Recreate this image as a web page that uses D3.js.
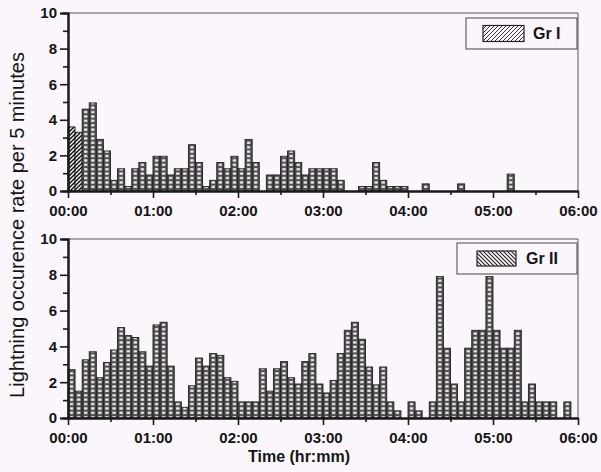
<!DOCTYPE html>
<html>
<head>
<meta charset="utf-8">
<script src="https://cdnjs.cloudflare.com/ajax/libs/d3/7.8.5/d3.min.js"></script>
<style>
  body { margin: 0; background: #fbf6fb; }
  svg { display: block; }
  text { font-family: "Liberation Sans", Arial, sans-serif; fill: #141414; }
</style>
</head>
<body>
<script>
// data: lightning rate per 5 minute bin, 72 bins from 00:00 to 06:00
var binMinutes = 5;
var timeLabels = ["00:00", "01:00", "02:00", "03:00", "04:00", "05:00", "06:00"];
var yTickValues = [0, 2, 4, 6, 8, 10];
var groupNames = ["Gr I", "Gr II"];

var grI = [3.6, 3.3, 4.6, 4.95, 2.9, 2.25, 0.6, 1.25, 0.25, 1.25, 1.6, 0.9,
           1.95, 1.95, 0.9, 1.25, 1.25, 2.6, 1.6, 0.25, 0.6, 1.6, 1.25, 1.95,
           1.25, 2.9, 1.6, 0, 0.9, 0.9, 1.95, 2.25, 1.6, 0.9, 1.25, 1.25,
           1.25, 1.25, 0.6, 0, 0, 0.25, 0.25, 1.6, 0.6, 0.25, 0.25, 0.25,
           0, 0, 0.4, 0, 0, 0, 0, 0.4, 0, 0, 0, 0,
           0, 0, 0.95, 0, 0, 0, 0, 0, 0, 0, 0, 0];

var grII = [2.7, 1.5, 3.25, 3.7, 2.25, 3.1, 3.8, 5.05, 4.6, 4.5, 3.7, 2.9,
            5.2, 5.35, 2.9, 0.9, 0.6, 1.8, 3.35, 2.9, 3.6, 3.5, 2.25, 2.05,
            0.9, 0.9, 0.9, 2.75, 1.5, 2.75, 3.15, 2.25, 1.9, 3.15, 3.6, 1.9,
            1.4, 2.1, 3.6, 4.9, 5.35, 4.4, 2.85, 1.85, 2.85, 0.9, 0.4, 0,
            0.9, 0.4, 0, 0.9, 7.9, 3.9, 1.9, 0.9, 3.9, 4.9, 4.9, 7.9,
            4.9, 3.9, 3.9, 4.9, 0.9, 1.9, 0.9, 0.9, 0.9, 0, 0.9, 0];

(function(){

    var width = 601, height = 472;
    var left = 68, right = 578;
    var plotW = right - left;

    // one entry per panel
    var panels = [
        {name: groupNames[0], values: grI, top: 13, bottom: 191, hatch: "hatchI",
         legend: {x: 466, y: 18, w: 111, h: 31, sx: 483, sw: 41, sh: 16, tx: 533}},
        {name: groupNames[1], values: grII, top: 239, bottom: 418, hatch: "hatchII",
         legend: {x: 457, y: 243, w: 120, h: 31, sx: 477, sw: 39, sh: 15, tx: 526}}
    ];

    var svg = d3.select("body").append("svg")
        .attr("width", width)
        .attr("height", height);

    var xScale = d3.scaleLinear().domain([0, 360]).range([0, plotW]);
    var step = xScale(binMinutes) - xScale(0);

    var defs = svg.append("defs");

    // scanned bar look: dark column with small white cells
    var cells = defs.append("pattern")
        .attr("id", "cells")
        .attr("patternUnits", "userSpaceOnUse")
        .attr("width", step)
        .attr("height", 4.4);
    cells.append("rect").attr("width", step).attr("height", 4.4).attr("fill", "#4d4b4e");
    cells.append("rect").attr("x", 1.9).attr("y", 1.1)
        .attr("width", step - 3.8).attr("height", 2.3).attr("fill", "#f2ecf2");

    // hatches for legend and the first bars
    function hatch(id, d, sw, col){
        var p = defs.append("pattern")
            .attr("id", id)
            .attr("patternUnits", "userSpaceOnUse")
            .attr("width", 4).attr("height", 4);
        p.append("rect").attr("width", 4).attr("height", 4).attr("fill", "#fbf6fb");
        p.append("path").attr("d", d).attr("stroke", col).attr("stroke-width", sw);
    }
    hatch("hatchI", "M-1,1 l2,-2 M0,4 l4,-4 M3,5 l2,-2", 1, "#333");
    hatch("hatchII", "M-1,3 l2,2 M0,0 l4,4 M3,-1 l2,2", 1.1, "#222");
    hatch("hatchDark", "M-1,1 l2,-2 M0,4 l4,-4 M3,5 l2,-2", 1.5, "#111");

    panels.forEach(function(p, pi){

        var plotH = p.bottom - p.top;
        var yScale = d3.scaleLinear().domain([0, 10]).range([plotH, 0]);

        var g = svg.append("g")
            .attr("transform", "translate(" + left + "," + p.top + ")");

        // frame top and right
        g.append("line").attr("x1", 0).attr("x2", plotW).attr("y1", 0).attr("y2", 0)
            .attr("stroke", "#555").attr("stroke-width", 1);
        g.append("line").attr("x1", plotW).attr("x2", plotW).attr("y1", 0).attr("y2", plotH)
            .attr("stroke", "#555").attr("stroke-width", 1);

        // bars, one per non-empty 5 minute bin
        var bins = p.values.map(function(v, i){ return {v: v, i: i}; })
            .filter(function(d){ return d.v > 0; });

        g.selectAll(".bin")
            .data(bins)
            .enter()
            .append("rect")
            .attr("class", "bin")
            .attr("x", function(d){ return xScale(d.i * binMinutes); })
            .attr("y", function(d){ return yScale(d.v); })
            .attr("width", step)
            .attr("height", function(d){ return yScale(0) - yScale(d.v); })
            .attr("fill", function(d){ return (pi == 0 && d.i < 2) ? "url(#hatchDark)" : "url(#cells)"; })
            .attr("stroke", "#222")
            .attr("stroke-width", 0.9);

        // y axis
        var yAxis = d3.axisLeft(yScale).tickValues(yTickValues).tickSize(8).tickPadding(3);
        var yMinor = d3.axisLeft(yScale).tickValues(d3.range(1, 10, 2)).tickSize(5).tickFormat("");
        var ya = g.append("g").attr("class", "axis").call(yAxis);
        var ym = g.append("g").attr("class", "axis").call(yMinor);

        // x axis
        var xAxis = d3.axisBottom(xScale).tickValues(d3.range(0, 361, 60))
            .tickFormat(function(d, i){ return timeLabels[i]; })
            .tickSize(7).tickPadding(7).tickSizeOuter(0);
        var xMinor = d3.axisBottom(xScale).tickValues(d3.range(30, 360, 60))
            .tickSize(4).tickFormat("").tickSizeOuter(0);
        var xa = g.append("g").attr("class", "axis").attr("transform", "translate(0," + plotH + ")").call(xAxis);
        var xm = g.append("g").attr("class", "axis").attr("transform", "translate(0," + plotH + ")").call(xMinor);

        [ya, ym, xa, xm].forEach(function(a){
            a.select(".domain").attr("stroke", "#1a1a1a").attr("stroke-width", 2);
            a.selectAll(".tick line").attr("stroke", "#1a1a1a").attr("stroke-width", 1.6);
        });
        ya.selectAll("text").style("font-size", "15px").style("font-weight", "bold");
        xa.selectAll("text").style("font-size", "15px").style("font-weight", "bold");

        // legend
        var lg = svg.append("g");
        lg.append("rect")
            .attr("x", p.legend.x).attr("y", p.legend.y)
            .attr("width", p.legend.w).attr("height", p.legend.h)
            .attr("fill", "none").attr("stroke", "#444").attr("stroke-width", 1);
        lg.append("rect")
            .attr("x", p.legend.sx).attr("y", p.legend.y + (p.legend.h - p.legend.sh) / 2)
            .attr("width", p.legend.sw).attr("height", p.legend.sh)
            .attr("fill", "url(#" + p.hatch + ")").attr("stroke", "#222").attr("stroke-width", 1.2);
        lg.append("text")
            .attr("x", p.legend.tx).attr("y", p.legend.y + p.legend.h / 2 + 5.5)
            .style("font-size", "16px").style("font-weight", "bold")
            .text(p.name);
    });

    // axis titles
    svg.append("text")
        .attr("transform", "translate(24,225) rotate(-90)")
        .attr("text-anchor", "middle")
        .style("font-size", "20px")
        .text("Lightning occurence rate per 5 minutes");

    svg.append("text")
        .attr("x", 299)
        .attr("y", 462)
        .attr("text-anchor", "middle")
        .style("font-size", "16px")
        .style("font-weight", "bold")
        .text("Time (hr:mm)");

})();
</script>
</body>
</html>
